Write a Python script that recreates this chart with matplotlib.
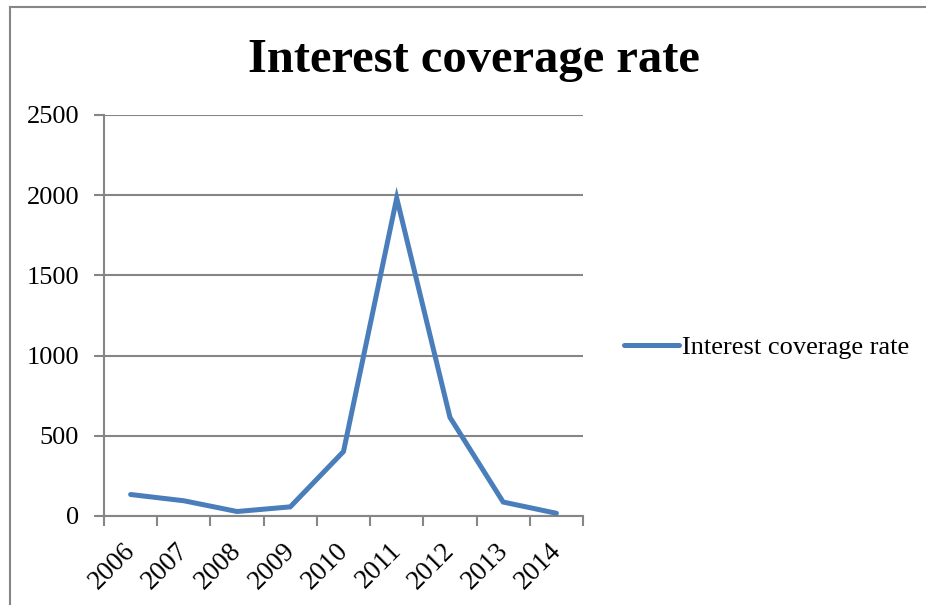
import matplotlib
matplotlib.use('Agg')
import matplotlib.pyplot as plt
import matplotlib.transforms as mtransforms
from matplotlib.lines import Line2D

# data
years = ['2006', '2007', '2008', '2009', '2010', '2011', '2012', '2013', '2014']
coverage = [134, 95, 28, 57, 402, 1982, 615, 87, 17]
series_name = 'Interest coverage rate'

plt.rcParams['font.family'] = ['Liberation Serif', 'DejaVu Serif']

fig = plt.figure(figsize=(9.26, 6.05), dpi=100)
ax = fig.add_axes([104 / 926, 1 - 516 / 605, 479 / 926, 401 / 605])

# chart area border (only top and left edges are visible in the crop)
border = dict(color='#868686', linewidth=1.5, transform=fig.transFigure)
fig.lines.append(Line2D([10 / 926, 1.01], [1 - 7 / 605, 1 - 7 / 605], **border))
fig.lines.append(Line2D([10 / 926, 10 / 926], [-0.01, 1 - 7 / 605], **border))

x = list(range(len(years)))
ax.plot(x, coverage, color='#4A7EBB', linewidth=3.6, solid_capstyle='round',
        solid_joinstyle='miter', label=series_name, zorder=3)

ax.set_xlim(-0.5, len(years) - 0.5)
ax.set_ylim(0, 2500)
ax.set_yticks(range(0, 2501, 500))
ax.grid(axis='y', color='#868686', linewidth=1.5)
ax.set_axisbelow(True)

# category ticks at boundaries, labels centred on categories
ax.set_xticks([i - 0.5 for i in range(len(years) + 1)])
ax.set_xticklabels([])
ax.set_xticks(x, minor=True)
ax.set_xticklabels(years, minor=True, rotation=45, ha='right', rotation_mode='anchor',
                   fontsize=19.5)
ax.tick_params(axis='x', which='minor', length=0, pad=16)
ax.tick_params(axis='x', which='major', length=7, width=1.5, color='#868686', direction='out')
ax.tick_params(axis='y', length=7, width=1.5, color='#868686', labelsize=19, pad=11)

shift = mtransforms.ScaledTranslation(-8 / 100, 0, fig.dpi_scale_trans)
for lab in ax.get_xticklabels(minor=True):
    lab.set_transform(lab.get_transform() + shift)

for s in ['top', 'right']:
    ax.spines[s].set_visible(False)
for s in ['left', 'bottom']:
    ax.spines[s].set_color('#868686')
    ax.spines[s].set_linewidth(1.5)

fig.text(474 / 926, 1 - 72 / 605, 'Interest coverage rate', ha='center', va='baseline',
         fontsize=35, fontweight='bold')

ax.legend(loc='center left', bbox_to_anchor=(1.085, 0.421), frameon=False, fontsize=19,
          handlelength=2.1, handletextpad=0.1, borderpad=0, borderaxespad=0)

fig.savefig('out.png', dpi=100)
